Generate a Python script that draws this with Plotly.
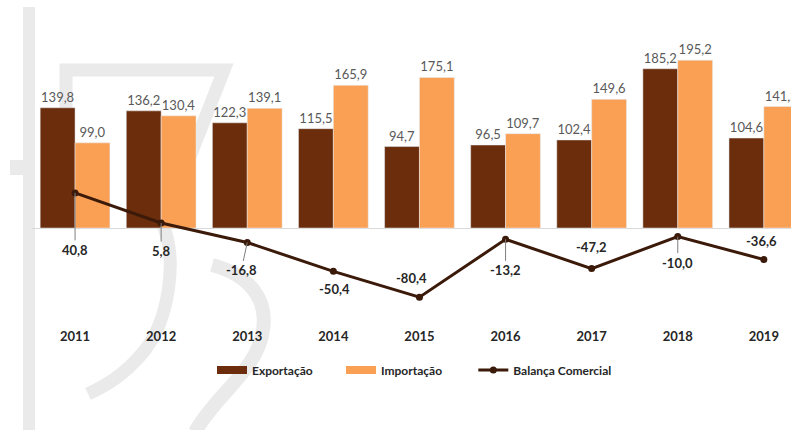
import plotly.graph_objects as go

years = ["2011", "2012", "2013", "2014", "2015", "2016", "2017", "2018", "2019"]
exportacao = [139.8, 136.2, 122.3, 115.5, 94.7, 96.5, 102.4, 185.2, 104.6]
importacao = [99.0, 130.4, 139.1, 165.9, 175.1, 109.7, 149.6, 195.2, 141.2]
balanca = [40.8, 5.8, -16.8, -50.4, -80.4, -13.2, -47.2, -10.0, -36.6]

# label placement for the balance labels: (arrow?, dx, dy) in pixels (dy positive = down)
label_pos = [(True, 0, 57), (True, 0, 28), (True, -6, 28), (False, 1, 18), (False, -8, -19),
             (True, 0, 31), (False, 0, -22), (True, 0, 26), (False, -2, -18)]

C_EXP = "#6B2D0B"
C_IMP = "#F9A054"
C_BAL = "#3B1A0A"
FONT = "Lato"

W, H = 791, 430
ML, MR, MT, MB = 32, 0, 40, 103
PW, PH = W - ML - MR, H - MT - MB


def px(x):
    return (x - ML) / PW


def py(y):
    return (H - MB - y) / PH


fig = go.Figure()

fig.add_trace(go.Bar(x=years, y=exportacao, name="Exportação", marker_color=C_EXP,
                     texttemplate="%{y:.1f}", textposition="outside", cliponaxis=False,
                     textfont=dict(size=13, color="#595959", family=FONT), showlegend=False))
fig.add_trace(go.Bar(x=years, y=importacao, name="Importação", marker_color=C_IMP,
                     texttemplate="%{y:.1f}", textposition="outside", cliponaxis=False,
                     textfont=dict(size=13, color="#595959", family=FONT), showlegend=False))

# legend swatches
fig.add_trace(go.Scatter(x=[None], y=[None], mode="lines", name="Exportação" + "\u00a0" * 8,
                         line=dict(color=C_EXP, width=8)))
fig.add_trace(go.Scatter(x=[None], y=[None], mode="lines", name="Importação" + "\u00a0" * 9,
                         line=dict(color=C_IMP, width=8)))

fig.add_trace(go.Scatter(x=years, y=balanca, mode="lines+markers", name="Balança Comercial",
                         line=dict(color=C_BAL, width=3), marker=dict(size=7, color=C_BAL),
                         cliponaxis=False))

anns = []
for i, (v, (arrow, dx, dy)) in enumerate(zip(balanca, label_pos)):
    txt = "<b>" + f"{v:.1f}".replace(".", ",") + "</b>"
    if arrow:
        anns.append(dict(x=i, y=v, xref="x", yref="y", text=txt, showarrow=True, arrowhead=0,
                         arrowwidth=1, arrowcolor="#7f7f7f", ax=dx, ay=dy,
                         font=dict(size=13, color="#262626", family=FONT)))
    else:
        anns.append(dict(x=i, y=v, xref="x", yref="y", text=txt, showarrow=False,
                         xshift=dx, yshift=-dy,
                         font=dict(size=13, color="#262626", family=FONT)))

# watermark (light grey logo in background)
WM = "#EAEAEA"


def path(cmds):
    out = []
    for c in cmds:
        if isinstance(c, str):
            out.append(c)
        else:
            out.append(f"{px(c[0]):.4f},{py(c[1]):.4f}")
    return " ".join(out)


shapes = [
    dict(type="rect", xref="paper", yref="paper", x0=px(23), x1=px(35), y0=py(7), y1=py(430),
         fillcolor=WM, line_width=0, layer="below"),
    dict(type="rect", xref="paper", yref="paper", x0=px(10), x1=px(23), y0=py(160), y1=py(175),
         fillcolor=WM, line_width=0, layer="below"),
    dict(type="path", xref="paper", yref="paper", layer="below", line=dict(color=WM, width=13),
         path=path(["M", (66, 135), "L", (66, 70), "L", (224, 70), "L", (163, 225),
                    "C", (178, 262), (168, 320), (145, 350), "C", (125, 375), (105, 386), (88, 394)])),
    dict(type="path", xref="paper", yref="paper", layer="below", line=dict(color=WM, width=14),
         path=path(["M", (212, 265), "C", (250, 275), (268, 300), (263, 330),
                    "C", (258, 370), (215, 395), (195, 432)])),
]

fig.update_layout(
    width=W, height=H,
    margin=dict(l=ML, r=MR, t=MT, b=MB),
    paper_bgcolor="white", plot_bgcolor="rgba(0,0,0,0)",
    barmode="group", bargap=0.19, bargroupgap=0,
    separators=",.",
    annotations=anns, shapes=shapes,
    font=dict(family=FONT, color="#262626"),
    legend=dict(orientation="h", x=px(212), xanchor="left", y=py(370), yanchor="middle",
                font=dict(size=12, color="#262626", family=FONT, weight="bold"),
                bgcolor="rgba(0,0,0,0)", traceorder="normal"),
    xaxis=dict(type="category", range=[-0.5, -0.5 + PW / 86.1], showgrid=False, showline=False,
               ticks="", tickfont=dict(size=13, color="#262626", family=FONT, weight="bold")),
    yaxis=dict(range=[-115.1, 218.6], showgrid=False, showticklabels=False, ticks="",
               zeroline=True, zerolinecolor="#D9D9D9", zerolinewidth=1, showline=False),
)

fig.write_html("out.html", post_script="document.body.style.margin='0px';",
               config={"displayModeBar": False})
